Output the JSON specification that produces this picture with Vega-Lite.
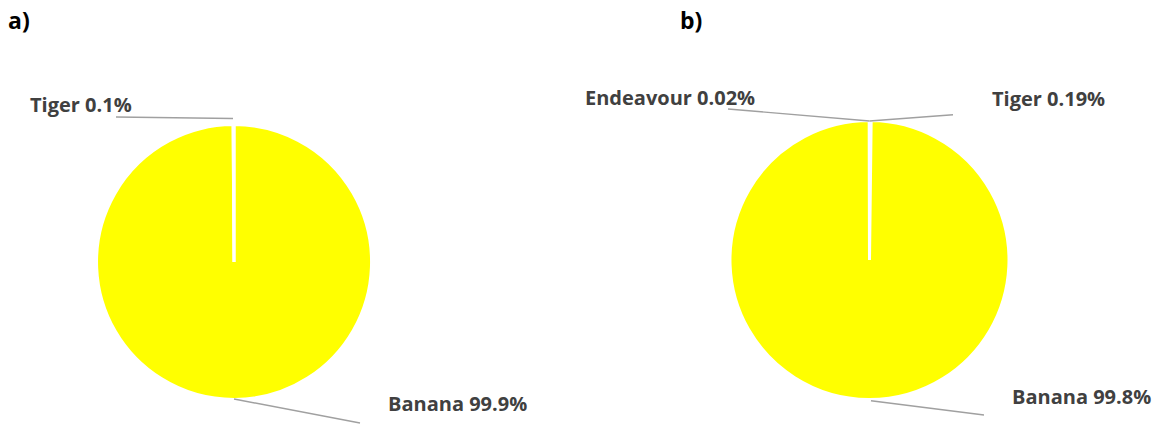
{
  "$schema": "https://vega.github.io/schema/vega-lite/v6.json",
  "padding": 0,
  "background": "white",
  "spacing": 0,
  "config": {"view": {"stroke": null}, "font": "Open Sans"},
  "datasets": {
    "pieA": [
      {"species": "Banana", "share": 99.9, "ord": 1},
      {"species": "Tiger", "share": 0.1, "ord": 2}
    ],
    "pieB": [
      {"species": "Tiger", "share": 0.19, "ord": 1},
      {"species": "Banana", "share": 99.79, "ord": 2},
      {"species": "Endeavour", "share": 0.02, "ord": 3}
    ],
    "labA": [
      {"label": "Tiger 0.1%", "lx": -204, "ly": -156},
      {"label": "Banana 99.9%", "lx": 154, "ly": 143}
    ],
    "leadA": [
      {"x1": -118, "y1": -145, "x2": -1, "y2": -143.5},
      {"x1": 0, "y1": 137, "x2": 126, "y2": 161}
    ],
    "labB": [
      {"label": "Endeavour 0.02%", "lx": -284.5, "ly": -161.5},
      {"label": "Tiger 0.19%", "lx": 122.5, "ly": -160},
      {"label": "Banana 99.8%", "lx": 142.5, "ly": 138}
    ],
    "leadB": [
      {"x1": -141.5, "y1": -151, "x2": 0, "y2": -139},
      {"x1": 0, "y1": -139, "x2": 83.5, "y2": -145.3},
      {"x1": 1.5, "y1": 140.7, "x2": 114.5, "y2": 155}
    ],
    "tagA": [{"tag": "a)", "lx": -226, "ly": -240}],
    "tagB": [{"tag": "b)", "lx": -189.5, "ly": -238}]
  },
  "hconcat": [
    {
      "width": 540,
      "height": 426,
      "layer": [
        {
          "data": {"name": "pieA"},
          "mark": {"type": "arc", "outerRadius": 137.5, "stroke": "#ffffff", "strokeWidth": 3},
          "encoding": {
            "x": {"datum": 0, "type": "quantitative", "scale": {"domain": [-234, 306], "nice": false, "zero": false}, "axis": null},
            "y": {"datum": 0, "type": "quantitative", "scale": {"domain": [-262, 164], "nice": false, "zero": false, "reverse": true}, "axis": null},
            "theta": {"field": "share", "type": "quantitative", "stack": true},
            "order": {"field": "ord", "type": "quantitative"},
            "color": {"field": "species", "type": "nominal", "scale": {"range": ["#FFFF00"]}, "legend": null}
          }
        },
        {
          "data": {"name": "leadA"},
          "mark": {"type": "rule", "color": "#a0a0a0", "strokeWidth": 1.4},
          "encoding": {
            "x": {"field": "x1", "type": "quantitative", "scale": {"domain": [-234, 306], "nice": false, "zero": false}, "axis": null},
            "y": {"field": "y1", "type": "quantitative", "scale": {"domain": [-262, 164], "nice": false, "zero": false, "reverse": true}, "axis": null},
            "x2": {"field": "x2"},
            "y2": {"field": "y2"}
          }
        },
        {
          "data": {"name": "labA"},
          "mark": {"type": "text", "align": "left", "baseline": "middle", "fontWeight": "bold", "fontSize": 20, "color": "#404040"},
          "encoding": {
            "x": {"field": "lx", "type": "quantitative", "scale": {"domain": [-234, 306], "nice": false, "zero": false}, "axis": null},
            "y": {"field": "ly", "type": "quantitative", "scale": {"domain": [-262, 164], "nice": false, "zero": false, "reverse": true}, "axis": null},
            "text": {"field": "label"}
          }
        },
        {
          "data": {"name": "tagA"},
          "mark": {"type": "text", "align": "left", "baseline": "middle", "fontWeight": "bold", "fontSize": 23, "color": "#000000"},
          "encoding": {
            "x": {"field": "lx", "type": "quantitative", "scale": {"domain": [-234, 306], "nice": false, "zero": false}, "axis": null},
            "y": {"field": "ly", "type": "quantitative", "scale": {"domain": [-262, 164], "nice": false, "zero": false, "reverse": true}, "axis": null},
            "text": {"field": "tag"}
          }
        }
      ]
    },
    {
      "width": 625,
      "height": 426,
      "layer": [
        {
          "data": {"name": "pieB"},
          "mark": {"type": "arc", "outerRadius": 139.5, "stroke": "#ffffff", "strokeWidth": 3},
          "encoding": {
            "x": {"datum": 0, "type": "quantitative", "scale": {"domain": [-329.5, 295.5], "nice": false, "zero": false}, "axis": null},
            "y": {"datum": 0, "type": "quantitative", "scale": {"domain": [-260, 166], "nice": false, "zero": false, "reverse": true}, "axis": null},
            "theta": {"field": "share", "type": "quantitative", "stack": true},
            "order": {"field": "ord", "type": "quantitative"},
            "color": {"field": "species", "type": "nominal", "scale": {"range": ["#FFFF00"]}, "legend": null}
          }
        },
        {
          "data": {"name": "leadB"},
          "mark": {"type": "rule", "color": "#a0a0a0", "strokeWidth": 1.4},
          "encoding": {
            "x": {"field": "x1", "type": "quantitative", "scale": {"domain": [-329.5, 295.5], "nice": false, "zero": false}, "axis": null},
            "y": {"field": "y1", "type": "quantitative", "scale": {"domain": [-260, 166], "nice": false, "zero": false, "reverse": true}, "axis": null},
            "x2": {"field": "x2"},
            "y2": {"field": "y2"}
          }
        },
        {
          "data": {"name": "labB"},
          "mark": {"type": "text", "align": "left", "baseline": "middle", "fontWeight": "bold", "fontSize": 20, "color": "#404040"},
          "encoding": {
            "x": {"field": "lx", "type": "quantitative", "scale": {"domain": [-329.5, 295.5], "nice": false, "zero": false}, "axis": null},
            "y": {"field": "ly", "type": "quantitative", "scale": {"domain": [-260, 166], "nice": false, "zero": false, "reverse": true}, "axis": null},
            "text": {"field": "label"}
          }
        },
        {
          "data": {"name": "tagB"},
          "mark": {"type": "text", "align": "left", "baseline": "middle", "fontWeight": "bold", "fontSize": 23, "color": "#000000"},
          "encoding": {
            "x": {"field": "lx", "type": "quantitative", "scale": {"domain": [-329.5, 295.5], "nice": false, "zero": false}, "axis": null},
            "y": {"field": "ly", "type": "quantitative", "scale": {"domain": [-260, 166], "nice": false, "zero": false, "reverse": true}, "axis": null},
            "text": {"field": "tag"}
          }
        }
      ]
    }
  ]
}
